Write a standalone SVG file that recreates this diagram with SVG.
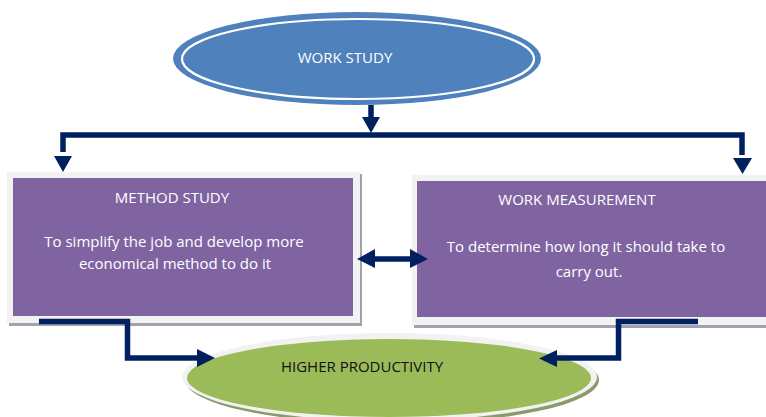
<svg xmlns="http://www.w3.org/2000/svg" width="766" height="417" viewBox="0 0 766 417">
<style>
.t{font-family:"Open Sans","Liberation Sans",sans-serif;font-size:15px;text-anchor:middle}
.w{fill:#ffffff}
.k{fill:#111111}
.ln{fill:none;stroke:#002060;stroke-width:5.5;stroke-linejoin:miter}
.ah{fill:#002060}
</style>
<rect width="766" height="417" fill="#ffffff"/>
<g id="work-study">
<ellipse cx="357" cy="58.5" rx="184" ry="46.5" fill="#4F81BD"/>
<ellipse cx="358" cy="59" rx="176" ry="40" fill="#4F81BD" stroke="#ffffff" stroke-width="2.2"/>
<text class="t w" x="345" y="63">WORK STUDY</text>
</g>
<g id="method-study">
<rect x="9" y="174" width="353" height="152" fill="#a5a0ae"/>
<rect x="7" y="172" width="353" height="151" fill="#f2f2f2"/>
<rect x="13" y="178" width="340" height="138" fill="#8064A2"/>
<text class="t w" x="172" y="203">METHOD STUDY</text>
<text class="t w" x="174" y="247">To simplify the job and develop more</text>
<text class="t w" x="175" y="269">economical method to do it</text>
</g>
<g id="work-measurement">
<rect x="414" y="177" width="360" height="151" fill="#a5a0ae"/>
<rect x="412" y="175" width="360" height="150" fill="#f2f2f2"/>
<rect x="417" y="181" width="360" height="136" fill="#8064A2"/>
<text class="t w" x="577" y="205">WORK MEASUREMENT</text>
<text class="t w" x="586" y="252">To determine how long it should take to</text>
<text class="t w" x="589" y="277">carry out.</text>
</g>
<g id="higher-productivity">
<ellipse cx="392" cy="380" rx="207" ry="44" fill="#8a9a6a"/>
<ellipse cx="389.5" cy="377" rx="207.5" ry="44" fill="#f2f2f2"/>
<ellipse cx="389" cy="378" rx="202" ry="39" fill="#9BBB59"/>
<text class="t k" x="362" y="372">HIGHER PRODUCTIVITY</text>
</g>
<g id="connectors">
<path class="ln" d="M371 105 V120"/>
<polygon class="ah" points="362,117 380,117 371,133"/>
<path class="ln" d="M63 152 V135 H742 V155"/>
<polygon class="ah" points="54,156 72,156 63,172"/>
<polygon class="ah" points="733,158 752,158 742.5,174"/>
<path class="ln" d="M372 259 H412"/>
<polygon class="ah" points="357,259 375,249 375,268"/>
<polygon class="ah" points="428,259 410,249 410,268"/>
<path class="ln" d="M39 321.5 H127.5 V358 H200"/>
<polygon class="ah" points="197,349 215,358 197,367"/>
<path class="ln" d="M698 321.5 H618.5 V358 H555"/>
<polygon class="ah" points="557,350 539,358.5 557,367"/>
</g>
</svg>
